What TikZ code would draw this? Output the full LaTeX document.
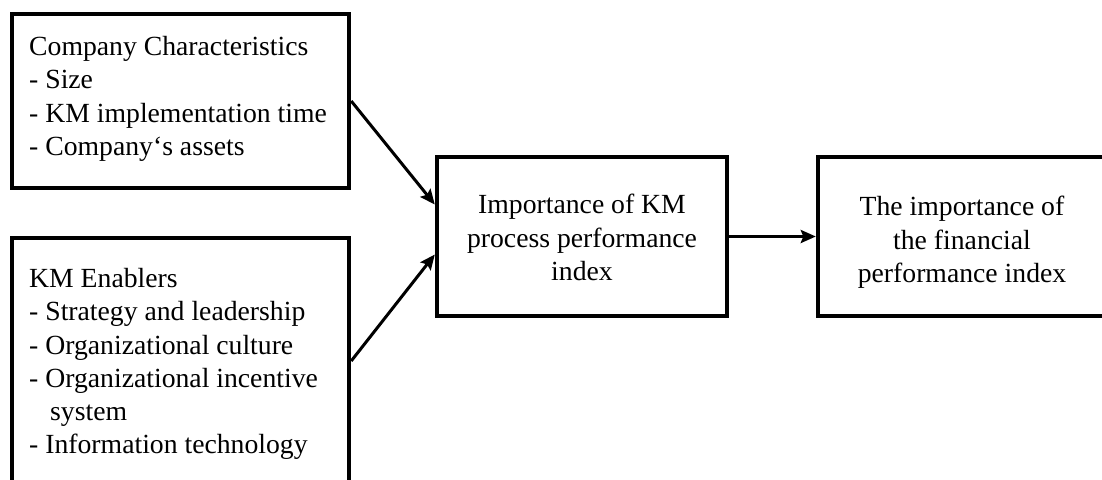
\documentclass[tikz,border=0pt]{standalone}
\usepackage{fontspec}
\setmainfont{Liberation Serif}
\usetikzlibrary{arrows.meta}
\begin{document}
\begin{tikzpicture}[x=1pt,y=-1pt,
  box/.style={draw=black, line width=4.4pt, fill=white, inner sep=0pt},
  txt/.style={inner sep=0pt, font=\fontsize{27.7}{33.3}\selectfont},
  link/.style={line width=3pt, -{Stealth[length=15pt,width=13pt,inset=2.5pt]}}]
\useasboundingbox (0,0) rectangle (1102,479);
\clip (0,0) rectangle (1102,479);

% boxes
\node[box, minimum width=337pt, minimum height=174pt] (cc) at (180.5,101) {};
\node[box, minimum width=337pt, minimum height=246pt] (en) at (180.5,361) {};
\node[box, minimum width=290pt, minimum height=159pt] (km) at (582,236.5) {};
\node[box, minimum width=292pt, minimum height=159pt] (fi) at (964,236.5) {};

% box texts
\node[txt, anchor=north west, align=left] (cctext) at (29,36)
  {Company Characteristics\\- Size\\- KM implementation time\\- Company‘s assets};
\node[txt, anchor=north west, align=left] (entext) at (29,268)
  {KM Enablers\\- Strategy and leadership\\- Organizational culture\\- Organizational incentive\\\hspace*{21pt}system\\- Information technology};
\node[txt, anchor=north, align=center] (kmtext) at (582,194)
  {Importance of KM\\process performance\\index};
\node[txt, anchor=north, align=center] (fitext) at (962,196)
  {The importance of\\the financial\\performance index};

% connectors
\draw[link] (cc.east) -- ([yshift=32pt]km.west);
\draw[link] (en.east) -- ([yshift=-18pt]km.west);
\draw[link] (km.east) -- (fi.west);
\end{tikzpicture}
\end{document}
